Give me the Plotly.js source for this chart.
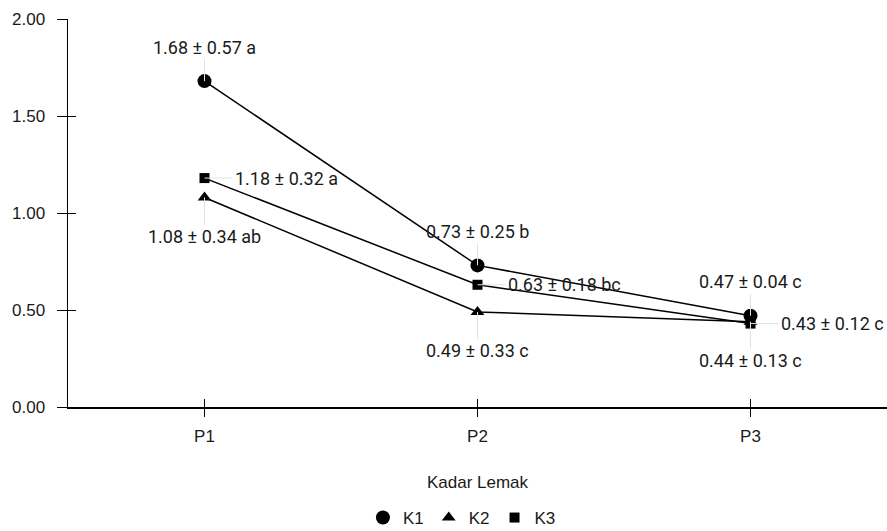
<!DOCTYPE html>
<html><head><meta charset="utf-8">
<script src="https://cdn.plot.ly/plotly-3.0.1.min.js"></script>
<style>html,body{margin:0;padding:0;background:#fff}#c{width:887px;height:531px}</style>
</head><body><div id="c"></div>
<script>
var categories = ["P1", "P2", "P3"];
var seriesNames = ["K1", "K2", "K3"];
var K1 = [1.68, 0.73, 0.47];
var K2 = [1.08, 0.49, 0.44];
var K3 = [1.18, 0.63, 0.43];
var K1sd = [0.57, 0.25, 0.04];
var K2sd = [0.34, 0.33, 0.13];
var K3sd = [0.32, 0.18, 0.12];
var K1grp = ["a", "b", "c"];
var K2grp = ["ab", "c", "c"];
var K3grp = ["a", "bc", "c"];
var yTicks = [0, 0.5, 1, 1.5, 2];

var series = [K1, K2, K3];
var sds = [K1sd, K2sd, K3sd];
var grps = [K1grp, K2grp, K3grp];
var symbols = ["circle", "triangle-up", "square"];
var sizes = [14, 12, 10];
var lblFont = "Roboto, 'Noto Sans', sans-serif";
var axFont = "'Liberation Sans', Arial, sans-serif";

var traces = [];
series.forEach(function (s, i) {
  traces.push({x: categories, y: s, type: "scatter", mode: "lines",
    line: {color: "#000", width: 1.5}, showlegend: false, hoverinfo: "skip"});
});
series.forEach(function (s, i) {
  traces.push({x: categories, y: s, type: "scatter", mode: "markers", name: seriesNames[i],
    marker: {symbol: symbols[i], size: sizes[i], color: "#000"}, showlegend: true});
});
traces.push({x: [0, 1, 2], y: [0, 0, 0], xaxis: "x2", yaxis: "y2", mode: "markers",
  marker: {opacity: 0}, showlegend: false, hoverinfo: "skip"});

// label placement: K1 above, K2 below, K3 right
var offsets = [
  {ax: 0, ay: -34, xanchor: "center"},
  {ax: 0, ay: 39, xanchor: "center"},
  {ax: 28, ay: 0, xanchor: "left"}
];
var annotations = [];
series.forEach(function (s, i) {
  s.forEach(function (v, j) {
    annotations.push({
      x: categories[j], y: v, xref: "x", yref: "y",
      text: v.toFixed(2) + " ± " + sds[i][j].toFixed(2) + " " + grps[i][j],
      showarrow: true, arrowhead: 0, arrowwidth: 1, arrowcolor: "#e2e2e2",
      ax: offsets[i].ax, ay: offsets[i].ay, xanchor: offsets[i].xanchor, yanchor: "middle",
      font: {family: lblFont, size: 18, color: "#1a1a1a"}, standoff: 0
    });
  });
});

var layout = {
  width: 887, height: 531,
  margin: {l: 68, r: 0, t: 19, b: 124},
  paper_bgcolor: "#fff", plot_bgcolor: "#fff",
  font: {family: axFont, size: 17, color: "#1a1a1a"},
  xaxis: {type: "category", range: [-0.5, 2.5], showgrid: false, zeroline: false, automargin: false,
    showline: true, linecolor: "#000", linewidth: 1.5, ticks: "outside", ticklen: 8,
    tickcolor: "#000", tickwidth: 1, ticklabelstandoff: 5,
    tickfont: {family: axFont, size: 17, color: "#1a1a1a"},
    title: {text: "Kadar Lemak", standoff: 31, font: {family: axFont, size: 17, color: "#1a1a1a"}}},
  yaxis: {range: [0, 2], tickvals: yTicks, tickformat: ".2f", showgrid: false, zeroline: false, automargin: false,
    showline: true, linecolor: "#000", linewidth: 1.5, ticks: "outside", ticklen: 10,
    tickcolor: "#000", tickwidth: 1, ticklabelstandoff: 8,
    tickfont: {family: axFont, size: 17, color: "#1a1a1a"}},
  xaxis2: {overlaying: "x", range: [-0.5, 2.5], tickvals: [0, 1, 2], ticks: "inside", ticklen: 8,
    tickcolor: "#000", tickwidth: 1, showticklabels: false, showgrid: false, zeroline: false,
    showline: false, anchor: "y2", automargin: false},
  yaxis2: {overlaying: "y", range: [0, 2], tickvals: yTicks, ticks: "inside", ticklen: 8,
    tickcolor: "#000", tickwidth: 1, showticklabels: false, showgrid: false, zeroline: false,
    showline: false, anchor: "x2", automargin: false},
  legend: {orientation: "h", x: 0.481, xanchor: "center", yref: "container", y: 0.0245, yanchor: "middle",
    font: {family: axFont, size: 17, color: "#1a1a1a"}, itemwidth: 30},
  annotations: annotations,
  showlegend: true
};
Plotly.newPlot("c", traces, layout, {displayModeBar: false, staticPlot: true});
</script></body></html>
